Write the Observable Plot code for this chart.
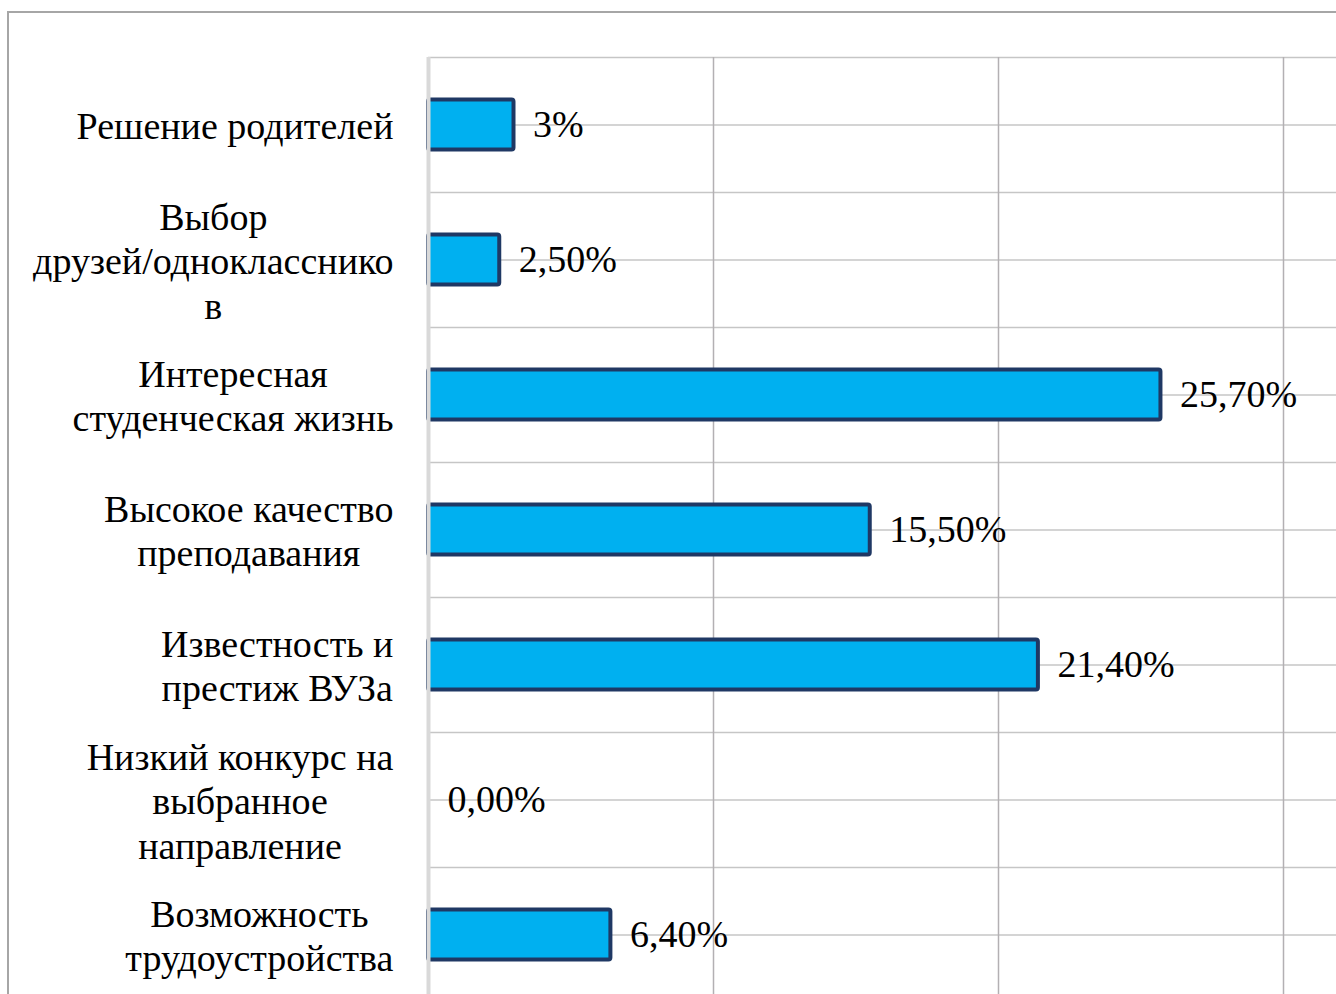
<!DOCTYPE html>
<html>
<head>
<meta charset="utf-8">
<script src="https://cdn.jsdelivr.net/npm/d3@7"></script>
<script src="https://cdn.jsdelivr.net/npm/@observablehq/plot@0.6"></script>
<style>
  html, body { margin: 0; padding: 0; background: #fff; overflow: hidden; width: 1336px; height: 994px; }
  #frame { position: absolute; left: 7px; top: 11px; width: 2000px; height: 2000px;
           border-left: 2px solid #a6a6a6; border-top: 2px solid #a6a6a6; pointer-events: none; }
  #chart { position: absolute; left: 0; top: 0; }
</style>
</head>
<body>
<div id="chart"></div>
<div id="frame"></div>
<script>
const categories = [
  "Решение родителей",
  "Выбор\nдрузей/однокласснико\nв",
  "Интересная\nстуденческая жизнь",
  "Высокое качество\nпреподавания",
  "Известность и\nпрестиж ВУЗа",
  "Низкий конкурс на\nвыбранное\nнаправление",
  "Возможность\nтрудоустройства"
];
const values = [3, 2.5, 25.7, 15.5, 21.4, 0, 6.4];
const valueLabels = ["3%", "2,50%", "25,70%", "15,50%", "21,40%", "0,00%", "6,40%"];
const xTicks = [0, 10, 20, 30];

const rows = categories.map((c, i) => ({cat: c, v: values[i], label: valueLabels[i], i}));
const gridY = d3.range(0, categories.length + 0.01, 0.5);

const plot = Plot.plot({
  width: 1336,
  height: 1002,
  marginLeft: 428,
  marginRight: 0,
  marginTop: 57,
  marginBottom: 0,
  style: {fontFamily: "'Liberation Serif', 'Times New Roman', serif", fontSize: "38px", color: "#000", background: "transparent"},
  x: {domain: [0, 908 / 28.5], range: [428, 1336], axis: null},
  y: {domain: [0, categories.length], range: [57, 1002], axis: null},
  marks: [
    Plot.ruleY(gridY, {y: d => d, stroke: "#c6c6c6", strokeWidth: 1.4}),
    Plot.ruleX(xTicks.filter(d => d > 0), {x: d => d, stroke: "#b3b0b3", strokeWidth: 1.5}),
    Plot.rectX(rows.filter(d => d.v > 0), {
      x1: 0, x2: "v", y1: "i", y2: d => d.i + 1,
      insetTop: 42.5, insetBottom: 42.5,
      fill: "#00b0f0", stroke: "#1f3864", strokeWidth: 4, rx: 2
    }),
    Plot.ruleX([0], {stroke: "#d9d9d9", strokeWidth: 4}),
    Plot.text(rows, {
      x: "v", y: d => d.i + 0.5, text: "label", textAnchor: "start", dx: 19, fontSize: 38
    }),
    Plot.text(rows, {
      x: 0, y: d => d.i + 0.5, text: "cat", textAnchor: "end", dx: -35,
      lineHeight: 1.17, fontSize: 38
    })
  ]
});
document.getElementById("chart").appendChild(plot);

// center each line within its right-aligned label block (as in the original)
const textGroups = plot.querySelectorAll('g[aria-label="text"]');
const labelGroup = textGroups[textGroups.length - 1];
labelGroup.querySelectorAll("text").forEach(function(t) {
  const w = t.getBBox().width;
  t.setAttribute("text-anchor", "middle");
  t.style.textAnchor = "middle";
  const tr = t.getAttribute("transform") || "";
  t.setAttribute("transform", tr + ` translate(${-w / 2},0)`);
});
</script>
</body>
</html>
